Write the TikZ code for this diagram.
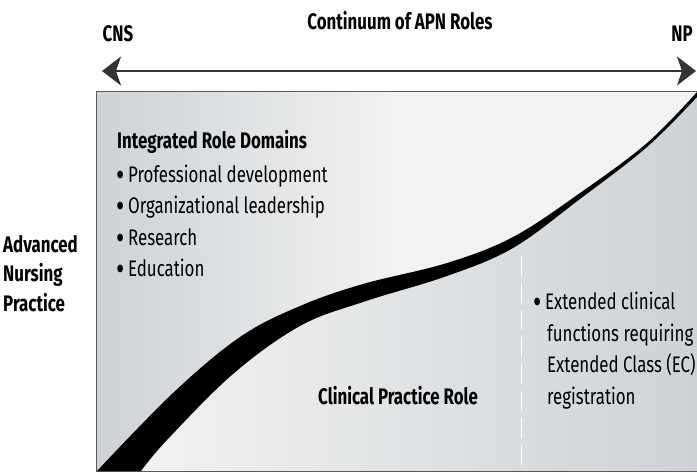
\documentclass[tikz,border=0pt]{standalone}
\usepackage{fontspec}
\setmainfont{Fira Sans}[FakeStretch=0.75]
\usetikzlibrary{arrows.meta,positioning}
\definecolor{paneldark}{RGB}{206,210,214}
\definecolor{panellight}{RGB}{241,242,242}
\definecolor{frameline}{RGB}{90,90,90}
\newcommand{\dotmark}{\raisebox{-3.5pt}{\scalebox{1.5}{\textbullet}}\,}
\tikzstyle{title}=[font=\bfseries\fontsize{22.5}{26}\selectfont, inner sep=0pt, anchor=base]
\tikzstyle{end label}=[font=\bfseries\fontsize{22.5}{26}\selectfont, inner sep=0pt, anchor=base]
\tikzstyle{heading}=[font=\bfseries\fontsize{22.5}{26}\selectfont, inner sep=0pt, anchor=base west]
\tikzstyle{item}=[font=\fontsize{22.5}{26}\selectfont, inner sep=0pt, anchor=base west]
\tikzstyle{side label}=[font=\bfseries\fontsize{22.5}{29.5}\selectfont, inner sep=0pt, align=left, anchor=north west]
\tikzstyle{continuum}=[{Stealth[length=19pt,width=29pt,inset=5pt]}-{Stealth[length=19pt,width=29pt,inset=5pt]}, line width=1.6pt, black!80]
\tikzstyle{band}=[fill=black]
\tikzstyle{divider}=[white, line width=1pt, dash pattern=on 20pt off 7pt]
\tikzstyle{edge}=[smooth, tension=0.6]
\begin{document}
\begin{tikzpicture}[x=1pt, y=-1pt]
        \useasboundingbox (0,0) rectangle (697,473);

        % Panel
        \shade[left color=paneldark, right color=panellight, middle color=panellight] (96,471)
            -- plot[edge] coordinates {(97,471) (173,393) (240,337) (300,306) (363,284) (447,263) (513,237) (580,193) (647,143) (697,92)}
            -- (96,92) -- cycle;
        \shade[left color=panellight, right color=paneldark] (697,471)
            -- plot[edge] coordinates {(697,97) (647,147) (580,199) (513,248) (447,276) (363,302) (300,326) (233,374) (167,440) (141,471)}
            -- cycle;
        \draw[divider] (521,256) -- (521,470);
        \draw[frameline, line width=1pt] (697,92) -- (96,92) -- (96,471) -- (697,471);

        % Curve
        \fill[band] (97,471)
            -- plot[edge] coordinates {(97,471) (173,393) (240,337) (300,306) (363,284) (447,263) (513,237) (580,193) (647,143) (697,92)}
            -- plot[edge] coordinates {(697,97) (647,147) (580,199) (513,248) (447,276) (363,302) (300,326) (233,374) (167,440) (141,471)}
            -- cycle;

        % Continuum
        \node[title] (title) at (400,30) {Continuum of APN Roles};
        \node[end label] (cns) at (118,42) {CNS};
        \node[end label] (np) at (682,42) {NP};
        \coordinate (cnsend) at (102,71);
        \coordinate (npend) at (696,71);
        \draw[continuum] (cnsend) -- (npend);

        % Side label
        \node[side label] (anp) at (3,235) {Advanced\\Nursing\\Practice};

        % Integrated roles
        \node[heading] (domains) at (117,149) {Integrated Role Domains};
        \node[item] (prof) at (116,183) {\dotmark Professional development};
        \node[item] (org) at (116,214) {\dotmark Organizational leadership};
        \node[item] (res) at (116,246) {\dotmark Research};
        \node[item] (edu) at (116,277) {\dotmark Education};

        % Clinical practice
        \node[heading] (clinical) at (318,405) {Clinical Practice Role};
        \node[item] (ext) at (533,310) {\dotmark Extended clinical};
        \node[item] (func) at (547,342) {functions requiring};
        \node[item] (ec) at (547,373) {Extended Class (EC)};
        \node[item] (reg) at (547,404) {registration};
    \end{tikzpicture}
\end{document}
